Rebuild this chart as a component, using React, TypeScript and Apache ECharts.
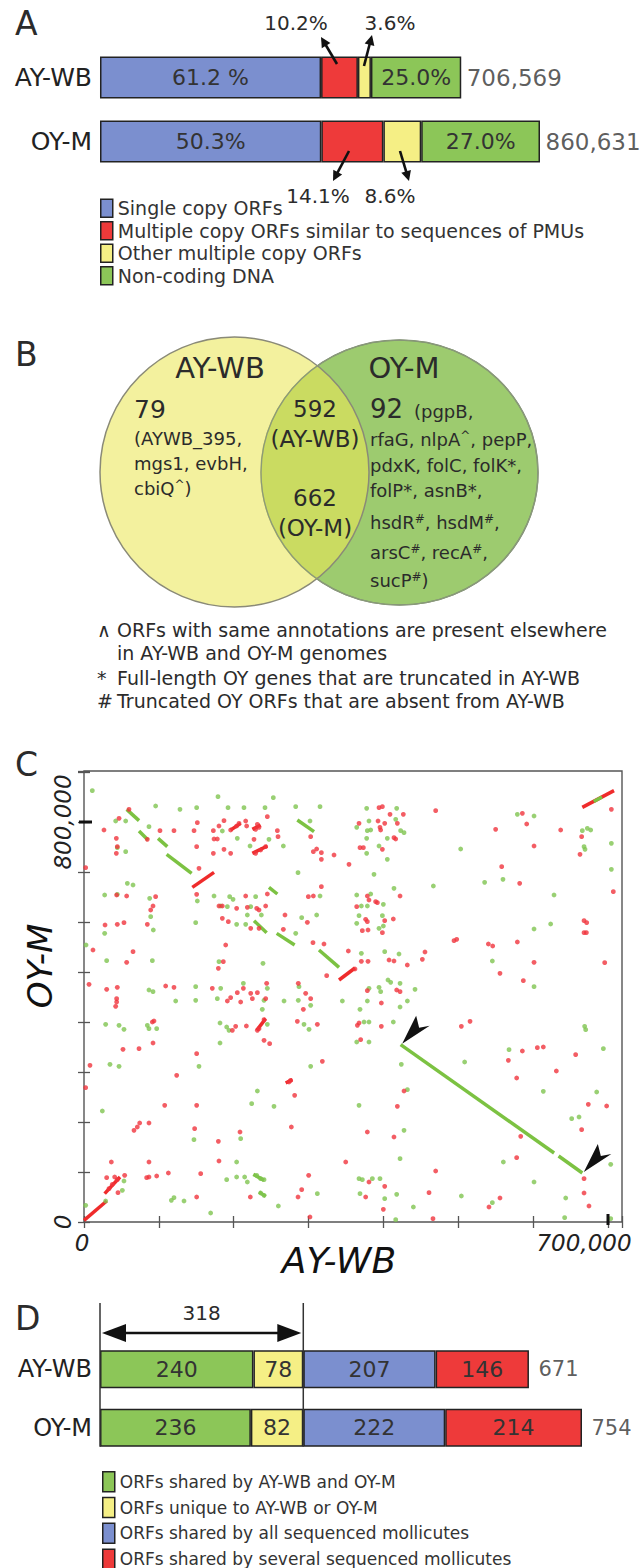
import React, { useEffect, useRef } from 'react';
import * as echarts from 'echarts';

const FONT = 'DejaVu Sans';
const TXT = '#2b2b2b';

// ---------------- Panel A : genome composition ----------------
const genomes = ['AY-WB', 'OY-M'];
const genomeSizes = [706569, 860631];
const genomeSizeLabels = ['706,569', '860,631'];
const compositionNames = [
  'Single copy ORFs',
  'Multiple copy ORFs similar to sequences of PMUs',
  'Other multiple copy ORFs',
  'Non-coding DNA',
];
const pctAYWB = [61.2, 10.2, 3.6, 25.0];
const pctOYM = [50.3, 14.1, 8.6, 27.0];
const pctLabelsAYWB = ['61.2 %', '10.2%', '3.6%', '25.0%'];
const pctLabelsOYM = ['50.3%', '14.1%', '8.6%', '27.0%'];

// ---------------- Panel B : Venn ----------------
const vennTitles = ['AY-WB', 'OY-M'];
const uniqueAYWB = 79;
const sharedAYWB = 592;
const sharedOYM = 662;
const uniqueOYM = 92;
const uniqueAYWBGenes = ['(AYWB_395,', 'mgs1, evbH,', 'cbiQ{s|^})'];
const uniqueOYMGenes = ['rfaG, nlpA{s|^}, pepP,', 'pdxK, folC, folK*,', 'folP*, asnB*,', 'hsdR{s|#}, hsdM{s|#},', 'arsC{s|#}, recA{s|#},', 'sucP{s|#})'];
const footnotes = [
  ['\u2227', 'ORFs with same annotations are present elsewhere'],
  ['', 'in AY-WB and OY-M genomes'],
  ['*', 'Full-length OY genes that are truncated in AY-WB'],
  ['#', 'Truncated OY ORFs that are absent from AY-WB'],
];

// ---------------- Panel C : dot plot (positions in kb) ----------------
const xTickLabelsC: Record<number, string> = { 0: '0', 700: '700,000' };
const yTickLabelsC: Record<number, string> = { 0: '0', 800: '800,000' };
const greenDotsC = [
  [11.1,862.7],[95.7,832],[128.2,825.3],[150.5,828.7],[179.0,850.7],[192.4,828.7],[213.7,828.7],[241.8,828.7],[252.9,848.7],[282.8,830.7],[315.3,830.7],[42.3,802],[55.7,802],[86.8,790.7],[184.8,782],[204.8,767.3],[221.8,752],[247.1,765.3],[266.3,752],[301.9,802],[285.9,698.7],[55.7,740.7],[57.9,677.3],[65.5,674],[27.6,654],[44.5,655.3],[87.7,647.3],[89.1,610.7],[92.6,584],[27.6,577.3],[149.2,598.7],[173.7,652],[194.6,650.7],[199.1,645.3],[182.6,632],[191.5,630.7],[218.2,614],[222.7,630.7],[229.3,650.7],[236.9,614],[203.9,595.3],[216.0,595.3],[282.8,577.3],[290.8,608.7],[310.8,614],[315.3,652],[239.1,517.3],[30.3,522.7],[91.3,522.7],[180.3,520.7],[182.6,467.3],[149.2,470.7],[212.9,477.3],[244.9,467.3],[287.2,470.7],[86.8,464],[92.2,460.7],[2.7,554],[151.4,642],[44.5,748.7],
  [377.6,827.3],[417.7,827.3],[364.3,789.3],[380.7,802],[378.5,782.7],[383.0,784],[416.4,805.3],[423.0,782.7],[427.5,778.7],[405.2,767.3],[377.6,767.3],[394.1,752],[405.2,725.3],[377.6,737.3],[503.2,746],[387.4,695.3],[414.1,667.3],[466.7,672],[535.2,679.3],[559.7,685.3],[578.9,815.3],[601.2,812],[665.7,782.7],[672.4,787.3],[676.9,784],[668.0,750.7],[669.3,745.3],[704.5,757.3],[704.5,705.3],[627.9,654],[364.3,654],[370.5,632],[378.5,632],[383.0,656],[399.9,635.3],[367.4,612.7],[398.6,612.7],[364.3,597.3],[394.1,587.3],[399.9,592],[601.2,586],[623.4,596],[370.5,537.3],[401.7,540.7],[420.8,536],[545.5,522],[406.1,484],[409.7,479.3],[422.2,477.3],[442.2,465.3],[601.2,470.7],[380.7,467.3],[394.1,469.3],[396.3,460.7],
  [122.5,442],[149.2,443.3],[178.1,446.7],[240.5,443.3],[267.2,442],[286.3,443.3],[345.1,442],[302.8,433.3],[238.2,425.3],[28.9,395.3],[46.8,393.3],[53.4,385.3],[84.6,393.3],[86.8,386.7],[97.1,386.7],[181.7,398],[190.6,390],[193.7,383.3],[181.7,358],[244.9,395.3],[293.9,395.3],[300.6,385.3],[34.7,315.3],[46.8,311.3],[153.6,311.3],[302.8,311.3],[231.6,262],[224.0,236.7],[253.8,231.3],[24.5,222],[146.9,164.7],[209.3,166.7],[203.9,120],[190.6,84.7],[203.9,90],[214.6,90],[218.2,80],[230.7,93.3],[236.0,86.7],[240.5,84.7],[236.0,58],[240.5,53.3],[259.6,32],[311.7,56.7],[169.2,18],[120.2,48.7],[116.7,43.3],[133.6,42],[53.4,82],[51.2,63.3],[28.9,42],[2.2,33.3],
  [368.7,425.3],[378.5,442],[374.1,400],[380.7,400],[413.2,400],[422.2,430],[432.0,442],[364.3,360],[380.7,360],[423.9,315.3],[508.5,320],[567.8,344.7],[693.8,346.7],[668.8,391.3],[670.2,384.7],[432.0,264.7],[367.4,233.3],[427.5,183.3],[422.2,126.7],[613.6,261.3],[684.9,260],[651.5,206.7],[661.3,210],[560.2,120],[601.2,80],[703.6,115.3],[367.4,86.7],[371.8,84.7],[385.2,86.7],[395.4,86.7],[368.7,56.7],[401.7,46.7],[417.7,55.3],[504.1,52],[440.0,30],[545.5,38.7],[643.5,48],[642.1,8.7],[416.4,4.7],[703.6,6.7],
];
const redDotsC = [
  [46.8,807.3],[60.1,825.3],[26.7,784],[101.5,782.7],[120.2,782.7],[147.0,782.7],[151.4,798.7],[172.8,782.7],[173.7,766],[178.1,766],[180.3,792],[187.0,802.7],[195.9,784],[203.9,792],[207.1,797.3],[216.0,802],[217.3,792],[229.3,785.3],[233.8,789.3],[244.9,810.7],[231.6,795.3],[258.3,782.7],[259.2,770.7],[227.1,765.3],[150.5,750.7],[172.8,737.3],[187.0,745.3],[195.9,737.3],[229.3,737.3],[236.0,744],[242.7,750.7],[302.8,770.7],[310.8,746],[317.1,738.7],[306.4,740.7],[317.1,725.3],[334.0,734],[354.0,715.3],[43.2,767.3],[44.5,750.7],[43.2,737.3],[84.6,765.3],[153.6,707.3],[2.2,708.7],[43.6,654],[57.0,652],[95.7,650.7],[92.2,632],[89.1,624],[150.5,655.3],[180.3,632],[184.8,632],[184.8,607.3],[192.8,600.7],[203.9,627.3],[218.2,629.3],[230.7,627.3],[233.8,624],[242.7,632],[244.9,656],[216.0,652],[222.7,587.3],[233.8,587.3],[266.3,585.3],[268.5,614],[298.4,599.3],[299.7,650.7],[306.4,652],[317.1,670.7],[305.9,558.7],[320.6,556],[353.1,542],[324.2,492.7],[28.1,594],[44.5,595.3],[53.4,598.7],[84.6,595.3],[12.0,544],[65.5,540.7],[57.0,519.3],[186.1,520.7],[189.3,554],[179.5,507.3],[6.7,475.3],[30.3,465.3],[44.5,469.3],[109.1,472],[120.2,469.3],[171.4,467.3],[204.8,458.7],[212.9,467.3],[222.7,457.3],[231.6,458.7],[244.0,477.3],[286.3,477.3],[296.1,457.3],
  [394.1,828.7],[398.6,830.7],[469.8,822.7],[408.8,815.3],[426.6,815.3],[367.4,797.3],[392.8,802],[401.7,797.3],[418.6,797.3],[395.4,789.3],[396.3,784],[414.1,768.7],[416.4,766],[368.7,748.7],[373.2,748.7],[398.6,745.3],[549.9,785.3],[585.6,817.3],[591.4,796],[601.2,752],[636.8,784],[664.8,770.7],[662.6,735.3],[558.0,710.7],[582.0,677.3],[422.2,652],[378.5,652],[389.6,640.7],[391.9,638.7],[380.7,644],[364.3,630.7],[376.3,605.3],[378.5,600.7],[401.7,602.7],[413.2,606],[371.8,582.7],[379.4,584],[398.6,578.7],[668.0,602.7],[671.5,598.7],[668.0,578.7],[671.1,578.7],[704.5,825.3],[707.1,660.7],[494.3,562.7],[497.9,565.3],[540.2,556],[546.0,552],[578.9,560],[455.5,540],[452.0,525.3],[407.5,524],[414.1,522],[370.5,521.3],[379.4,521.3],[431.9,514],[362.0,506],[555.7,497.3],[601.2,519.3],[586.9,482.7],[695.6,518.7],[417.7,464],[378.5,462.7],[422.2,460.7],
  [43.6,446.7],[43.6,440],[42.3,431.3],[2.2,268.7],[8.0,313.3],[52.1,345.3],[73.5,346.7],[92.2,358],[91.3,400],[93.5,402],[123.8,293.3],[107.8,233.3],[150.5,233.3],[150.5,336.7],[66.8,183.3],[71.2,190],[74.4,198],[86.8,198],[147.8,186.7],[179.5,161.3],[208.4,180],[180.3,122],[86.8,120],[36.5,120],[30.3,88.7],[41.0,90],[44.5,84.7],[54.3,93.3],[45.4,58.7],[83.7,88.7],[86.8,90],[97.1,92],[112.7,98],[155.9,96.7],[150.5,50],[222.2,50],[300.1,93.3],[290.8,64.7],[285.9,50],[301.9,10],[209.3,440],[195.9,448.7],[191.5,442],[224.9,446.7],[242.7,446.7],[293.0,425.3],[302.8,446.7],[311.7,395.3],[285.0,401.3],[216.9,392],[202.6,391.3],[198.2,383.3],[240.5,404.7],[233.8,386.7],[231.6,383.3],[240.5,363.3],[248.0,356.7],[273.9,280],[276.1,283.3],[281.4,253.3],[277.0,190],[318.4,321.3],[349.6,120],[37.9,75.3],[33.4,66.7],
  [397.2,438],[397.2,391.3],[365.2,393.3],[367.4,398],[369.6,364.7],[504.1,391.3],[515.7,401.3],[585.6,342],[566.9,323.3],[605.6,348.7],[613.6,350],[656.8,334.7],[631.0,302],[578.0,288],[427.5,262],[418.6,231.3],[378.5,180],[414.1,170],[583.4,171.3],[578.0,128.7],[673.7,235.3],[698.2,232],[664.8,184.7],[469.8,102],[401.7,71.3],[380.7,80],[376.3,50],[399.9,25.3],[460.9,58.7],[555.7,48],[541.0,30],[668.0,86.7],[668.0,58],[674.6,32],[466.2,6.7],
];
const greenSegmentsC = [
  [[57.0,825.3],[73.5,802.7]],
  [[73.5,782.0],[85.5,764.0]],
  [[98.9,767.3],[111.3,750.7]],
  [[110.4,735.3],[143.8,697.3]],
  [[285.0,804.0],[307.3,780.7]],
  [[247.1,669.3],[258.3,656.0]],
  [[227.1,602.7],[244.0,578.7]],
  [[257.4,577.3],[281.4,554.0]],
  [[313.9,544.0],[340.7,509.3]],
  [[423.0,354.7],[628.0,138.0]],
  [[634.0,132.0],[665.7,98.0]],
  [[681.0,841.0],[692.0,850.0]],
  [[226.2,95.3],[240.5,83.3]],
  [[233.8,60.0],[242.7,51.3]],
];
const redSegmentsC = [
  [[144.7,669.3],[173.7,699.3]],
  [[340.7,484.0],[362.0,508.0]],
  [[665.7,829.3],[708.0,862.7]],
  [[0.0,3.3],[30.3,42.0]],
  [[27.6,56.7],[48.1,90.0]],
  [[195.9,784.0],[209.3,797.3]],
  [[224.9,737.3],[244.9,752.0]],
  [[224.9,785.3],[236.0,794.0]],
  [[269.4,278.0],[278.3,284.7]],
  [[230.7,383.3],[242.7,406.7]],
];
// endpoints of the long inverted segment marked by arrowheads
const arrowTargetsC = [[423.0, 354.7], [665.7, 98.0]];

// ---------------- Panel D : ORF categories ----------------
const orfCategories = [
  'ORFs shared by AY-WB and OY-M',
  'ORFs unique to AY-WB or OY-M',
  'ORFs shared by all sequenced mollicutes',
  'ORFs shared by several sequenced mollicutes',
];
const orfAYWB = [240, 78, 207, 146];
const orfOYM = [236, 82, 222, 214];
const orfTotals = [671, 754];

// ---------------- styling / layout ----------------
const colA = ['#7b8fcf', '#ee3a3a', '#f5ef85', '#8cc658'];
const colD = ['#8cc658', '#f5ef85', '#7b8fcf', '#ee3a3a'];
const GA = { left: 100, top: 45.5, width: 440, height: 128 };
const GC = { left: 84, top: 771, width: 538, height: 451 };
const C_XMAX = 718.7;
const C_YMAX = 902;
const GD = { left: 100, top: 1340, width: 482, height: 117 };

const cPx = (x: number, y: number) => [
  GC.left + (x / C_XMAX) * GC.width,
  GC.top + GC.height - (y / C_YMAX) * GC.height,
];
const dPx = (v: number) => GD.left + (v / orfTotals[1]) * GD.width;

function txt(text: string, x: number, y: number, size: number, opts: any = {}) {
  const align = opts.align || 'left';
  const valign = opts.valign || 'middle';
  return {
    type: 'text',
    x, y,
    rotation: opts.rotation || 0,
    z: opts.z || 10,
    style: {
      text,
      fontSize: size,
      fontFamily: FONT,
      fontStyle: opts.italic ? 'italic' : 'normal',
      fill: opts.color || TXT,
      align, verticalAlign: valign,
      textAlign: align, textVerticalAlign: valign,
      rich: opts.rich,
    },
  };
}

function arrow(x1: number, y1: number, x2: number, y2: number, head = 10, halfW = 5, width = 2.6) {
  const dx = x2 - x1, dy = y2 - y1;
  const len = Math.hypot(dx, dy);
  const ux = dx / len, uy = dy / len;
  const bx = x2 - ux * head, by = y2 - uy * head;
  const px = -uy, py = ux;
  return [
    { type: 'line', z: 10, shape: { x1, y1, x2: bx + ux * 1, y2: by + uy * 1 }, style: { stroke: '#111', lineWidth: width } },
    { type: 'polygon', z: 10, shape: { points: [[x2, y2], [bx + px * halfW, by + py * halfW], [bx - px * halfW, by - py * halfW]] }, style: { fill: '#111' } },
  ];
}

function stealth(tx: number, ty: number) {
  return {
    type: 'polygon', z: 100,
    shape: { points: [[tx, ty], [tx + 14, ty - 28], [tx + 17, ty - 16], [tx + 27.5, ty - 18]] },
    style: { fill: '#111' },
  };
}

function buildOption() {
  const pctRows = [pctAYWB, pctOYM];
  const labelRows = [pctLabelsAYWB, pctLabelsOYM];
  const seriesA = compositionNames.map((name, i) => ({
    name,
    type: 'bar',
    stack: 'A',
    xAxisIndex: 0,
    yAxisIndex: 0,
    barWidth: 42,
    data: genomes.map((_, g) => (pctRows[g][i] * genomeSizes[g]) / 100),
    itemStyle: { color: colA[i], borderColor: '#222', borderWidth: 1.5 },
    label: {
      show: i === 0 || i === 3,
      position: 'inside',
      fontSize: 22,
      fontFamily: FONT,
      color: '#333',
      formatter: (p: any) => labelRows[p.dataIndex][i],
    },
    silent: true,
  }));
  const totalsA = {
    type: 'scatter',
    xAxisIndex: 0,
    yAxisIndex: 0,
    symbolSize: 1,
    itemStyle: { color: 'rgba(0,0,0,0)' },
    data: genomes.map((_, g) => [genomeSizes[g], g]),
    label: {
      show: true, position: 'right', distance: 5, fontSize: 23, fontFamily: FONT, color: '#333',
      formatter: (p: any) => genomeSizeLabels[p.dataIndex],
    },
    silent: true,
    z: 5,
  };

  const orfRows = [orfAYWB, orfOYM];
  const seriesD = orfCategories.map((name, i) => ({
    name,
    type: 'bar',
    stack: 'D',
    xAxisIndex: 3,
    yAxisIndex: 3,
    barWidth: 38,
    data: genomes.map((_, g) => orfRows[g][i]),
    itemStyle: { color: colD[i], borderColor: '#222', borderWidth: 1.5 },
    label: { show: true, position: 'inside', fontSize: 22, fontFamily: FONT, color: '#333' },
    silent: true,
  }));
  const totalsD = {
    type: 'scatter',
    xAxisIndex: 3,
    yAxisIndex: 3,
    symbolSize: 1,
    itemStyle: { color: 'rgba(0,0,0,0)' },
    data: genomes.map((_, g) => [orfTotals[g], g]),
    label: {
      show: true, position: 'right', distance: 9, fontSize: 21, fontFamily: FONT, color: '#333',
      formatter: (p: any) => String(orfTotals[p.dataIndex]),
    },
    silent: true,
    z: 5,
  };

  const seriesC = [
    {
      type: 'lines', coordinateSystem: 'cartesian2d', xAxisIndex: 1, yAxisIndex: 1,
      data: redSegmentsC.map((s) => ({ coords: s })),
      lineStyle: { color: '#ef2b2b', width: 3.5, opacity: 1 }, silent: true, z: 3,
    },
    {
      type: 'lines', coordinateSystem: 'cartesian2d', xAxisIndex: 1, yAxisIndex: 1,
      data: greenSegmentsC.map((s) => ({ coords: s })),
      lineStyle: { color: '#7cc242', width: 3.5, opacity: 1 }, silent: true, z: 3,
    },
    {
      type: 'scatter', xAxisIndex: 1, yAxisIndex: 1, symbolSize: 4.8,
      data: greenDotsC, itemStyle: { color: '#80c450' }, silent: true, z: 4,
    },
    {
      type: 'scatter', xAxisIndex: 1, yAxisIndex: 1, symbolSize: 4.8,
      data: redDotsC, itemStyle: { color: '#f0353d' }, silent: true, z: 4,
    },
  ];

  const cTick = { inside: true, length: 6, lineStyle: { color: '#555', width: 1.3 } };
  const italicLbl = { fontSize: 23, fontFamily: FONT, fontStyle: 'italic', color: '#222' };

  const graphic: any[] = [];
  // panel letters
  graphic.push(txt('A', 15, 23, 33));
  graphic.push(txt('B', 15, 354, 33));
  graphic.push(txt('C', 15, 764, 33));
  graphic.push(txt('D', 15, 1318, 33));

  // panel A arrows + labels
  const arrowsA = [
    { from: [337, 64], to: [321, 37], label: pctLabelsAYWB[1], at: [296, 23] },
    { from: [364, 66], to: [372, 35], label: pctLabelsAYWB[2], at: [390, 23] },
    { from: [349, 151], to: [333, 181], label: pctLabelsOYM[1], at: [318, 196] },
    { from: [400, 151], to: [409, 181], label: pctLabelsOYM[2], at: [390, 196] },
  ];
  arrowsA.forEach((a) => {
    graphic.push(...arrow(a.from[0], a.from[1], a.to[0], a.to[1]));
    graphic.push(txt(a.label, a.at[0], a.at[1], 20, { align: 'center' }));
  });

  // panel B Venn
  graphic.push({ type: 'ellipse', z: 1, shape: { cx: 399.5, cy: 472.5, rx: 138.5, ry: 132.5 }, style: { fill: '#9dcb6f', stroke: '#7d8a72', lineWidth: 1.5 } });
  graphic.push({ type: 'ellipse', z: 2, shape: { cx: 234.5, cy: 472, rx: 134.5, ry: 135 }, style: { fill: 'rgba(234,231,88,0.58)', stroke: '#8a8a78', lineWidth: 1.5 } });
  graphic.push({ type: 'ellipse', z: 3, shape: { cx: 399.5, cy: 472.5, rx: 138.5, ry: 132.5 }, style: { fill: 'none', stroke: '#8a9a7a', lineWidth: 1.2 } });
  graphic.push(txt(vennTitles[0], 220, 368, 29, { align: 'center' }));
  graphic.push(txt(vennTitles[1], 404, 368, 29, { align: 'center' }));
  graphic.push(txt(String(uniqueAYWB), 134, 409, 25));
  const rich = { s: { fontSize: 12, fontFamily: FONT, fill: TXT, verticalAlign: 'top', padding: [0, 0, 6, 0] } };
  uniqueAYWBGenes.forEach((g, i) => graphic.push(txt(g, 134, 438 + i * 25, 18, { rich })));
  graphic.push(txt(String(sharedAYWB), 315, 409, 23, { align: 'center' }));
  graphic.push(txt('(AY-WB)', 315, 439, 23, { align: 'center' }));
  graphic.push(txt(String(sharedOYM), 315, 498, 23, { align: 'center' }));
  graphic.push(txt('(OY-M)', 315, 528, 23, { align: 'center' }));
  graphic.push(txt(String(uniqueOYM), 370, 409, 26));
  graphic.push(txt('(pgpB,', 414, 411, 18));
  const yRight = [439, 465, 490, 522, 552, 580];
  uniqueOYMGenes.forEach((g, i) => graphic.push(txt(g, 370, yRight[i], 18, { rich })));
  // footnotes
  const yFoot = [630, 653, 678, 701];
  footnotes.forEach((f, i) => {
    if (f[0]) graphic.push(txt(f[0], 97, yFoot[i], 19));
    graphic.push(txt(f[1], 117, yFoot[i], 19));
  });

  // panel C extra decorations
  const t800 = cPx(0, 800);
  graphic.push({ type: 'line', z: 20, shape: { x1: GC.left - 5, y1: t800[1], x2: GC.left + 8, y2: t800[1] }, style: { stroke: '#111', lineWidth: 3 } });
  const t700 = cPx(700, 0);
  graphic.push({ type: 'line', z: 20, shape: { x1: t700[0], y1: GC.top + GC.height + 3, x2: t700[0], y2: GC.top + GC.height - 8 }, style: { stroke: '#111', lineWidth: 3 } });
  arrowTargetsC.forEach((p) => {
    const q = cPx(p[0], p[1]);
    graphic.push(stealth(q[0] + 1.5, q[1] - 1));
  });
  graphic.push(txt('AY-WB', 339, 1260, 36, { align: 'center', italic: true, color: '#111' }));
  graphic.push(txt('OY-M', 40, 966, 34, { align: 'center', italic: true, color: '#111', rotation: Math.PI / 2 }));

  // panel D bracket
  const x0 = dPx(0);
  const x318 = dPx(orfAYWB[0] + orfAYWB[1]);
  const barBottom = GD.top + GD.height * 0.75 + 19;
  graphic.push({ type: 'line', z: 20, shape: { x1: x0, y1: 1303, x2: x0, y2: barBottom }, style: { stroke: '#333', lineWidth: 1.5 } });
  graphic.push({ type: 'line', z: 20, shape: { x1: x318, y1: 1303, x2: x318, y2: barBottom }, style: { stroke: '#333', lineWidth: 1.5 } });
  graphic.push({ type: 'line', z: 20, shape: { x1: x0 + 20, y1: 1333, x2: x318 - 20, y2: 1333 }, style: { stroke: '#111', lineWidth: 2.5 } });
  graphic.push({ type: 'polygon', z: 20, shape: { points: [[x0 + 2, 1333], [x0 + 26, 1324], [x0 + 26, 1342]] }, style: { fill: '#111' } });
  graphic.push({ type: 'polygon', z: 20, shape: { points: [[x318 - 2, 1333], [x318 - 26, 1324], [x318 - 26, 1342]] }, style: { fill: '#111' } });
  graphic.push(txt(String(orfAYWB[0] + orfAYWB[1]), (x0 + x318) / 2, 1313, 20, { align: 'center' }));

  const legendBase = {
    orient: 'vertical',
    icon: 'rect',
    padding: 0,
    selectedMode: false,
    itemStyle: { borderColor: '#222', borderWidth: 1.5 },
  };

  return {
    animation: false,
    backgroundColor: '#fff',
    textStyle: { fontFamily: FONT },
    grid: [
      { ...GA, containLabel: false },
      { ...GC, show: true, borderColor: '#555', borderWidth: 1.4, backgroundColor: '#fff', containLabel: false },
      { ...GC, show: false },
      { ...GD, containLabel: false },
    ],
    xAxis: [
      { gridIndex: 0, type: 'value', min: 0, max: genomeSizes[1], show: false },
      {
        gridIndex: 1, type: 'value', min: 0, max: C_XMAX, interval: 100, position: 'bottom',
        axisLine: { show: false }, axisTick: cTick, splitLine: { show: false },
        axisLabel: {
          margin: 9,
          formatter: (v: number) => (v === 700 ? '{m|' + xTickLabelsC[700] + '}' : v === 0 ? '{z|' + xTickLabelsC[0] + '}' : ''),
          rich: { m: { ...italicLbl, padding: [0, 48, 0, 0] }, z: { ...italicLbl, padding: [0, 4, 0, 0] } },
        },
      },
      {
        gridIndex: 2, type: 'value', min: 0, max: C_XMAX, interval: 100, position: 'top',
        axisLine: { show: false }, axisTick: cTick, splitLine: { show: false }, axisLabel: { show: false },
      },
      { gridIndex: 3, type: 'value', min: 0, max: orfTotals[1], show: false },
    ],
    yAxis: [
      {
        gridIndex: 0, type: 'category', inverse: true, data: genomes,
        axisLine: { show: false }, axisTick: { show: false },
        axisLabel: { margin: 8, fontSize: 25, fontFamily: FONT, color: '#222' },
      },
      {
        gridIndex: 1, type: 'value', min: 0, max: C_YMAX, interval: 100, position: 'left',
        axisLine: { show: false }, axisTick: cTick, splitLine: { show: false },
        axisLabel: {
          margin: 10, rotate: 90, ...italicLbl,
          formatter: (v: number) => yTickLabelsC[v] || '',
        },
      },
      {
        gridIndex: 2, type: 'value', min: 0, max: C_YMAX, interval: 100, position: 'right',
        axisLine: { show: false }, axisTick: cTick, splitLine: { show: false }, axisLabel: { show: false },
      },
      {
        gridIndex: 3, type: 'category', inverse: true, data: genomes,
        axisLine: { show: false }, axisTick: { show: false },
        axisLabel: { margin: 8, fontSize: 24, fontFamily: FONT, color: '#222' },
      },
    ],
    legend: [
      {
        ...legendBase, left: 100, top: 198.5, height: 120, width: 500, itemWidth: 12, itemHeight: 18, itemGap: 3,
        textStyle: { fontSize: 19, fontFamily: FONT, color: '#333' },
        data: compositionNames,
      },
      {
        ...legendBase, left: 102, top: 1471, height: 140, width: 500, itemWidth: 12, itemHeight: 20, itemGap: 4.3,
        textStyle: { fontSize: 17, fontFamily: FONT, color: '#333' },
        data: orfCategories,
      },
    ],
    series: [...seriesA, totalsA, ...seriesC, ...seriesD, totalsD],
    graphic,
  };
}

export default function App() {
  const ref = useRef<HTMLDivElement>(null);
  useEffect(() => {
    if (!ref.current) return;
    const chart = echarts.init(ref.current, null, { renderer: 'svg' });
    chart.setOption(buildOption() as any);
    return () => chart.dispose();
  }, []);
  return (
    <div
      ref={ref}
      style={{ position: 'absolute', left: 0, top: 0, width: 640, height: 1568, background: '#fff' }}
    />
  );
}
